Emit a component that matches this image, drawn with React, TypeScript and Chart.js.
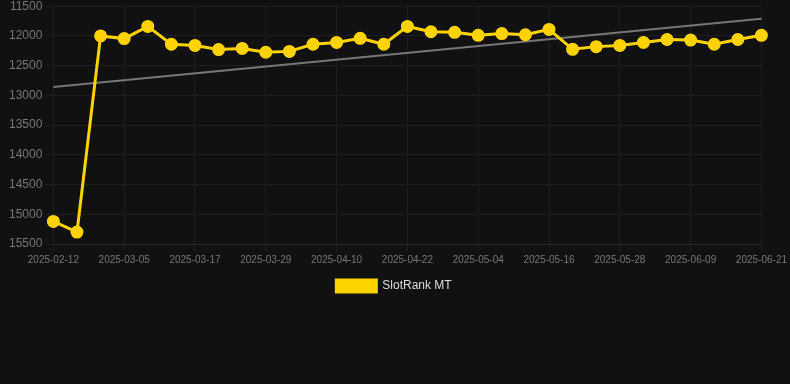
import React, { useEffect, useRef } from "react";
import { Chart, registerables } from "chart.js";

Chart.register(...registerables);

const dates = [
  "2025-02-12", "2025-02-19", "2025-02-26", "2025-03-05", "2025-03-09", "2025-03-13",
  "2025-03-17", "2025-03-21", "2025-03-25", "2025-03-29", "2025-04-02", "2025-04-06",
  "2025-04-10", "2025-04-14", "2025-04-18", "2025-04-22", "2025-04-26", "2025-04-30",
  "2025-05-04", "2025-05-08", "2025-05-12", "2025-05-16", "2025-05-20", "2025-05-24",
  "2025-05-28", "2025-06-01", "2025-06-05", "2025-06-09", "2025-06-13", "2025-06-17",
  "2025-06-21",
];

const rankValues = [
  15120, 15300, 12000, 12045, 11840, 12140, 12160, 12230, 12210, 12275, 12260, 12140,
  12110, 12040, 12140, 11840, 11930, 11940, 11990, 11960, 11980, 11890, 12225, 12180,
  12160, 12110, 12060, 12070, 12140, 12060, 11990,
];

const trendStart = 12860;
const trendEnd = 11710;

const yMin = 11500;
const yMax = 15500;

export default function App() {
  const ref = useRef<HTMLCanvasElement | null>(null);

  useEffect(() => {
    document.body.style.margin = "0";
    document.body.style.background = "#111111";
    const trend = dates.map((_, i) =>
      i === 0 ? trendStart : i === dates.length - 1 ? trendEnd : null
    );
    const chart = new Chart(ref.current as HTMLCanvasElement, {
      type: "line",
      data: {
        labels: dates,
        datasets: [
          {
            label: "SlotRank MT",
            data: rankValues,
            borderColor: "#FFD300",
            backgroundColor: "#FFD300",
            borderWidth: 3,
            pointRadius: 5,
            pointHoverRadius: 6,
            pointBackgroundColor: "#FFD300",
            pointBorderColor: "#FFD300",
            tension: 0,
          },
          {
            label: "trend",
            data: trend,
            borderColor: "#777777",
            borderWidth: 2,
            pointRadius: 0,
            spanGaps: true,
            tension: 0,
          },
        ],
      },
      options: {
        animation: false,
        responsive: true,
        maintainAspectRatio: false,
        layout: { padding: { left: 6, right: 8, top: 0, bottom: 2 } },
        plugins: {
          legend: {
            position: "bottom",
            labels: {
              color: "#dddddd",
              font: { size: 12, family: "Liberation Sans, Arial, sans-serif" },
              boxWidth: 40,
              boxHeight: 12,
              padding: 11,
              filter: (item) => item.text !== "trend",
            },
          },
          tooltip: { enabled: false },
        },
        scales: {
          x: {
            grid: { color: "#1e1e1e", drawTicks: true, tickLength: 7 },
            border: { color: "#2a2a2a" },
            ticks: {
              color: "#777777",
              font: { size: 10, family: "Liberation Sans, Arial, sans-serif" },
              maxRotation: 0,
              autoSkip: true,
              maxTicksLimit: 11,
            },
          },
          y: {
            reverse: true,
            min: yMin,
            max: yMax,
            grid: { color: "#1e1e1e", drawTicks: true, tickLength: 8 },
            border: { display: false },
            ticks: {
              stepSize: 500,
              padding: 3,
              color: "#777777",
              font: { size: 12, family: "Liberation Sans, Arial, sans-serif" },
              callback: (v) => String(v),
            },
          },
        },
      },
    });
    return () => chart.destroy();
  }, []);

  return (
    <div style={{ width: 790, height: 308, marginTop: -4, background: "#111111" }}>
      <canvas ref={ref} />
    </div>
  );
}
